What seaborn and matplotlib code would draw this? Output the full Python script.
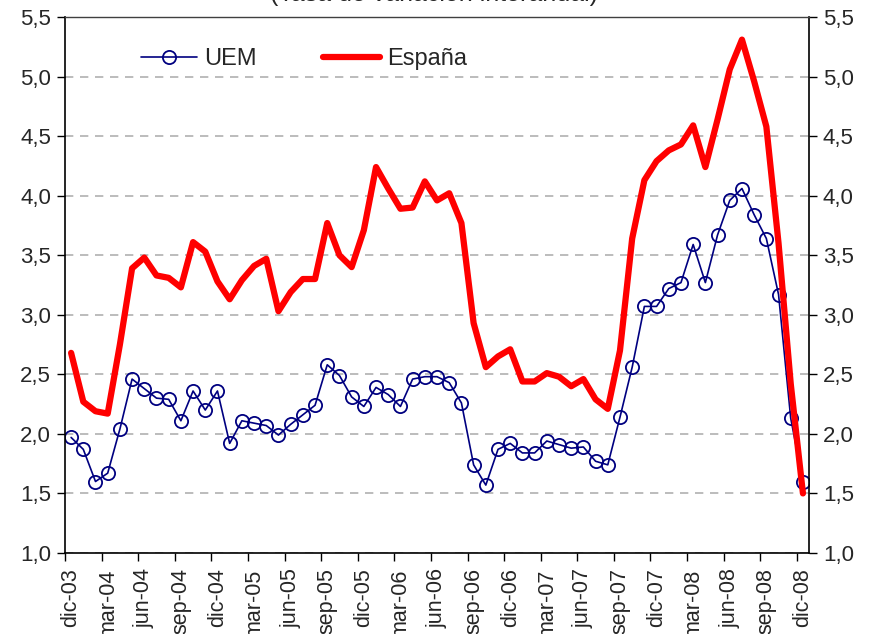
import numpy as np
import pandas as pd
import seaborn as sns
import matplotlib.pyplot as plt
from matplotlib.ticker import FixedLocator

# Meses: dic-03 ... dic-08
meses = ["dic", "ene", "feb", "mar", "abr", "may", "jun", "jul", "ago", "sep", "oct", "nov"]
fechas = [f"{meses[i % 12]}-{(3 + (i + 11) // 12):02d}" for i in range(61)]

uem = [1.97, 1.87, 1.60, 1.67, 2.04, 2.46, 2.38, 2.30, 2.29, 2.11, 2.36, 2.20,
       2.36, 1.92, 2.11, 2.09, 2.07, 1.99, 2.08, 2.16, 2.24, 2.58, 2.49, 2.31,
       2.23, 2.39, 2.33, 2.23, 2.46, 2.48, 2.48, 2.43, 2.26, 1.74, 1.57, 1.87,
       1.92, 1.84, 1.84, 1.94, 1.91, 1.88, 1.89, 1.77, 1.74, 2.14, 2.56, 3.07,
       3.07, 3.22, 3.27, 3.59, 3.27, 3.67, 3.96, 4.06, 3.84, 3.64, 3.17, 2.13,
       1.60]

espana = [2.68, 2.27, 2.19, 2.17, 2.75, 3.39, 3.48, 3.33, 3.31, 3.23, 3.61, 3.53,
          3.28, 3.13, 3.29, 3.41, 3.47, 3.03, 3.19, 3.30, 3.30, 3.77, 3.50, 3.40,
          3.71, 4.24, 4.06, 3.89, 3.90, 4.12, 3.96, 4.02, 3.77, 2.93, 2.56, 2.65,
          2.71, 2.44, 2.44, 2.51, 2.48, 2.40, 2.46, 2.29, 2.21, 2.70, 3.64, 4.13,
          4.29, 4.38, 4.43, 4.59, 4.24, 4.64, 5.06, 5.31, 4.96, 4.58, 3.60, 2.42,
          1.50]

y_ticks = [1.0, 1.5, 2.0, 2.5, 3.0, 3.5, 4.0, 4.5, 5.0, 5.5]
y_labels = ["1,0", "1,5", "2,0", "2,5", "3,0", "3,5", "4,0", "4,5", "5,0", "5,5"]

df = pd.DataFrame({"idx": np.arange(len(fechas)), "fecha": fechas,
                   "UEM": uem, "España": espana})

sns.set_style("white")
plt.rcParams["font.family"] = ["Liberation Sans", "DejaVu Sans"]

fig = plt.figure(figsize=(8.69, 6.34), dpi=100)
ax = fig.add_axes([0.0748, 0.1278, 0.8562, 0.8454])

sns.lineplot(data=df, x="idx", y="UEM", ax=ax, color="#000080", linewidth=1.2,
             marker="o", markersize=9.5, markerfacecolor="none",
             markeredgecolor="#000080", markeredgewidth=1.3, label="UEM")
sns.lineplot(data=df, x="idx", y="España", ax=ax, color="#ff0000", linewidth=4.5,
             label="España")

ax.set_xlim(-0.5, len(fechas) - 0.5)
ax.set_ylim(1.0, 5.5)
ax.set_xlabel("")
ax.set_ylabel("")

# etiquetas cada trimestre, marcas entre categorías
pos = list(range(0, len(fechas), 3))
ax.set_xticks(pos)
ax.set_xticklabels([fechas[i] for i in pos], rotation=90, fontsize=15.5)
ax.xaxis.set_minor_locator(FixedLocator([p - 0.5 for p in pos]))
ax.tick_params(axis="x", which="major", length=0, pad=11)
ax.tick_params(axis="x", which="minor", length=6, width=1, direction="out",
               bottom=True, color="black")

ax.set_yticks(y_ticks)
ax.set_yticklabels(y_labels, fontsize=16)
ax.tick_params(axis="y", which="major", length=6, width=1, direction="out",
               left=True, right=True, labelleft=True, labelright=True,
               color="black", pad=4)

ax.yaxis.grid(True, linestyle=(0, (5, 4)), color="#b0b0b0", linewidth=1.2)
ax.xaxis.grid(False)

for side in ["left", "right", "bottom"]:
    ax.spines[side].set_color("black")
    ax.spines[side].set_linewidth(1.2)
ax.spines["top"].set_color("#404040")
ax.spines["top"].set_linewidth(1.0)

ax.legend(loc="upper left", bbox_to_anchor=(0.073, 0.982), ncol=2, frameon=False,
          fontsize=17, handlelength=2.4, handletextpad=0.3, columnspacing=2.8)

fig.text(0.5, 0.9985, "(Tasa de variación interanual)", ha="center",
         va="baseline", fontsize=18)

plt.savefig("out.png", dpi=100)
